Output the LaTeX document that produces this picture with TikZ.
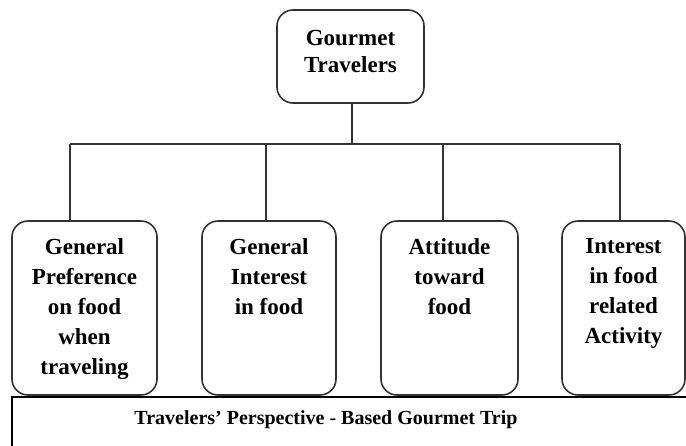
\documentclass[tikz,border=0pt]{standalone}
\usepackage{fontspec}
\setmainfont{Liberation Serif}
\usetikzlibrary{positioning}

\begin{document}
\begin{tikzpicture}[x=0.5pt,y=-0.5pt,
  box/.style={draw=black!80,line width=0.8pt,rounded corners=8pt,inner sep=0,minimum height=87pt},
  lbl/.style={font=\bfseries\fontsize{11.5}{15}\selectfont,align=center,inner sep=0},
  wire/.style={draw=black!80,line width=0.8pt}]
\useasboundingbox (0,0) rectangle (686,445);
% top
\node[box,lbl,minimum width=73.5pt,minimum height=46.5pt,text depth=5pt,font=\bfseries\fontsize{11.5}{13.5}\selectfont] (gt) at (350.5,56.5) {Gourmet\\Travelers};
% the four boxes
\node[box,minimum width=72.5pt] (b1) at (84.5,308) {};
\node[box,minimum width=67pt] (b2) at (269,308) {};
\node[box,minimum width=68.5pt] (b3) at (449.5,308) {};
\node[box,minimum width=61.5pt] (b4) at (623.5,308) {};
\node[lbl,below=9pt of b1.north] (t1) {General\\Preference\\on food\\when\\traveling};
\node[lbl,below=9pt of b2.north] (t2) {General\\Interest\\in food};
\node[lbl,below=9pt of b3.north] (t3) {Attitude\\toward\\food};
\node[lbl,below=9pt of b4.north] (t4) {Interest\\in food\\related\\Activity};
% connectors
\coordinate (bus) at (352,144);
\coordinate (d1) at (70,144);
\coordinate (d2) at (266,144);
\coordinate (d3) at (443,144);
\coordinate (d4) at (620,144);
\draw[wire] (gt.south -| bus) -- (bus);
\draw[wire] (d1) -- (d4);
\foreach \i in {1,...,4}
  \draw[wire] (d\i) -- (d\i |- b\i.north);
% bottom
\draw[line width=1pt] (12,470) |- (720,397);
\node[lbl,font=\bfseries\fontsize{10}{12}\selectfont] (trip) at (326,420) {Travelers’ Perspective - Based Gourmet Trip};
\end{tikzpicture}
\end{document}
